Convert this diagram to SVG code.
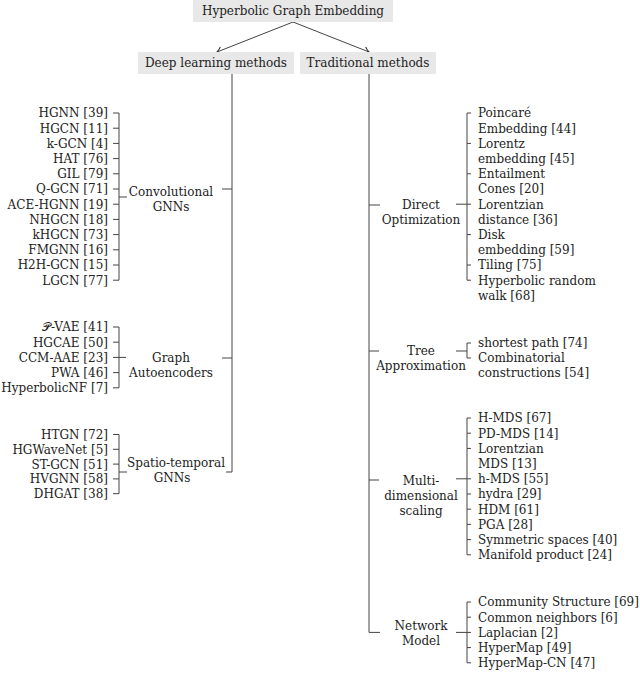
<svg xmlns="http://www.w3.org/2000/svg" width="640" height="679" viewBox="0 0 640 679">
<defs>
<style>
text{font-family:"DejaVu Serif","Liberation Serif",serif;font-size:12px;fill:#222}
.r{text-anchor:end}
.m{text-anchor:middle}
.box{fill:#e8e8e8}
.ln{stroke:#444;stroke-width:1;fill:none}
</style>
<marker id="arr" viewBox="-6 -5 7 10" markerWidth="7" markerHeight="10" refX="0" refY="0" orient="auto" markerUnits="userSpaceOnUse">
<path d="M-5,-3.5 Q-2,-0.9 0,0 Q-2,0.9 -5,3.5" stroke="#333" stroke-width="1.1" fill="none"/>
</marker>
</defs>
<rect width="640" height="679" fill="#fff"/>

<g id="connectors" class="ln">
<path d="M293,22 L217,52" marker-end="url(#arr)"/>
<path d="M293,22 L369,52" marker-end="url(#arr)"/>
<path d="M232,74 V472 H226"/>
<path d="M222,189 H232"/>
<path d="M222,358 H232"/>
<path d="M369,74 V632.4 H380"/>
<path d="M369,205 H380"/>
<path d="M369,351 H379"/>
<path d="M369,480 H379"/>
<path d="M113,113 H119 V280.2 H113"/>
<path d="M113,128.2 H119 M113,143.4 H119 M113,158.6 H119 M113,173.8 H119 M113,189 H119 M113,204.2 H119 M113,219.4 H119 M113,234.6 H119 M113,249.8 H119 M113,265 H119"/>
<path d="M119,197 H127"/>
<path d="M113,327 H119 V387.8 H113"/>
<path d="M113,342.2 H119 M113,372.6 H119"/>
<path d="M113,357.4 H126"/>
<path d="M113,434.5 H119 V493.7 H113"/>
<path d="M113,449.3 H119 M113,464.1 H119 M113,478.9 H119"/>
<path d="M119,472 H127"/>
<path d="M471,113 H467 V280.2 H471"/>
<path d="M467,143.4 H471 M467,173.8 H471 M467,234.6 H471 M467,265 H471"/>
<path d="M456,204.2 H471"/>
<path d="M471,343 H467 V358 H471"/>
<path d="M456,351 H467"/>
<path d="M471,418 H467 V554.8 H471"/>
<path d="M467,433.2 H471 M467,448.4 H471 M467,494 H471 M467,509.2 H471 M467,524.4 H471 M467,539.6 H471"/>
<path d="M456,478.8 H471"/>
<path d="M471,602 H467 V662.8 H471"/>
<path d="M467,617.2 H471 M467,647.6 H471"/>
<path d="M456,632.4 H471"/>
</g>

<g id="root"><rect class="box" x="193" y="0" width="200" height="22"/><text class="m" x="293" y="15">Hyperbolic Graph Embedding</text></g>
<g id="deep"><rect class="box" x="138" y="52" width="156" height="22"/><text class="m" x="216" y="67">Deep learning methods</text></g>
<g id="trad"><rect class="box" x="300" y="52" width="136" height="22"/><text class="m" x="368" y="67">Traditional methods</text></g>

<g id="conv"><text class="m" x="171" y="196">Convolutional</text><text class="m" x="171" y="211">GNNs</text></g>
<g id="gae"><text class="m" x="171" y="362">Graph</text><text class="m" x="171" y="377">Autoencoders</text></g>
<g id="spatio"><text class="m" x="176" y="467">Spatio-temporal</text><text class="m" x="172" y="482">GNNs</text></g>

<g id="conv-leaves">
<text class="r" x="108" y="117.4">HGNN [39]</text>
<text class="r" x="108" y="132.6">HGCN [11]</text>
<text class="r" x="108" y="147.8">k-GCN [4]</text>
<text class="r" x="108" y="163">HAT [76]</text>
<text class="r" x="108" y="178.2">GIL [79]</text>
<text class="r" x="108" y="193.4">Q-GCN [71]</text>
<text class="r" x="108" y="208.6">ACE-HGNN [19]</text>
<text class="r" x="108" y="223.8">NHGCN [18]</text>
<text class="r" x="108" y="239">kHGCN [73]</text>
<text class="r" x="108" y="254.2">FMGNN [16]</text>
<text class="r" x="108" y="269.4">H2H-GCN [15]</text>
<text class="r" x="108" y="284.6">LGCN [77]</text>
</g>
<g id="gae-leaves">
<text class="r" x="108" y="331.4">𝒫-VAE [41]</text>
<text class="r" x="108" y="346.6">HGCAE [50]</text>
<text class="r" x="108" y="361.8">CCM-AAE [23]</text>
<text class="r" x="108" y="377">PWA [46]</text>
<text class="r" x="108" y="392.2">HyperbolicNF [7]</text>
</g>
<g id="spatio-leaves">
<text class="r" x="108" y="438.9">HTGN [72]</text>
<text class="r" x="108" y="453.7">HGWaveNet [5]</text>
<text class="r" x="108" y="468.5">ST-GCN [51]</text>
<text class="r" x="108" y="483.3">HVGNN [58]</text>
<text class="r" x="108" y="498.1">DHGAT [38]</text>
</g>

<g id="direct"><text class="m" x="421" y="209">Direct</text><text class="m" x="421" y="224">Optimization</text></g>
<g id="tree"><text class="m" x="421" y="355">Tree</text><text class="m" x="421" y="370">Approximation</text></g>
<g id="mds"><text class="m" x="421" y="485">Multi-</text><text class="m" x="421" y="500">dimensional</text><text class="m" x="421" y="515">scaling</text></g>
<g id="network"><text class="m" x="421" y="630">Network</text><text class="m" x="421" y="645">Model</text></g>

<g id="direct-leaves">
<text x="478" y="117.4">Poincaré</text>
<text x="478" y="132.6">Embedding [44]</text>
<text x="478" y="147.8">Lorentz</text>
<text x="478" y="163">embedding [45]</text>
<text x="478" y="178.2">Entailment</text>
<text x="478" y="193.4">Cones [20]</text>
<text x="478" y="208.6">Lorentzian</text>
<text x="478" y="223.8">distance [36]</text>
<text x="478" y="239">Disk</text>
<text x="478" y="254.2">embedding [59]</text>
<text x="478" y="269.4">Tiling [75]</text>
<text x="478" y="284.6">Hyperbolic random</text>
<text x="478" y="299.8">walk [68]</text>
</g>
<g id="tree-leaves">
<text x="478" y="347.4">shortest path [74]</text>
<text x="478" y="362.4">Combinatorial</text>
<text x="478" y="377.4">constructions [54]</text>
</g>
<g id="mds-leaves">
<text x="478" y="422.4">H-MDS [67]</text>
<text x="478" y="437.6">PD-MDS [14]</text>
<text x="478" y="452.8">Lorentzian</text>
<text x="478" y="468">MDS [13]</text>
<text x="478" y="483.2">h-MDS [55]</text>
<text x="478" y="498.4">hydra [29]</text>
<text x="478" y="513.6">HDM [61]</text>
<text x="478" y="528.8">PGA [28]</text>
<text x="478" y="544">Symmetric spaces [40]</text>
<text x="478" y="559.2">Manifold product [24]</text>
</g>
<g id="network-leaves">
<text x="478" y="606.4">Community Structure [69]</text>
<text x="478" y="621.6">Common neighbors [6]</text>
<text x="478" y="636.8">Laplacian [2]</text>
<text x="478" y="652">HyperMap [49]</text>
<text x="478" y="667.2">HyperMap-CN [47]</text>
</g>
</svg>
